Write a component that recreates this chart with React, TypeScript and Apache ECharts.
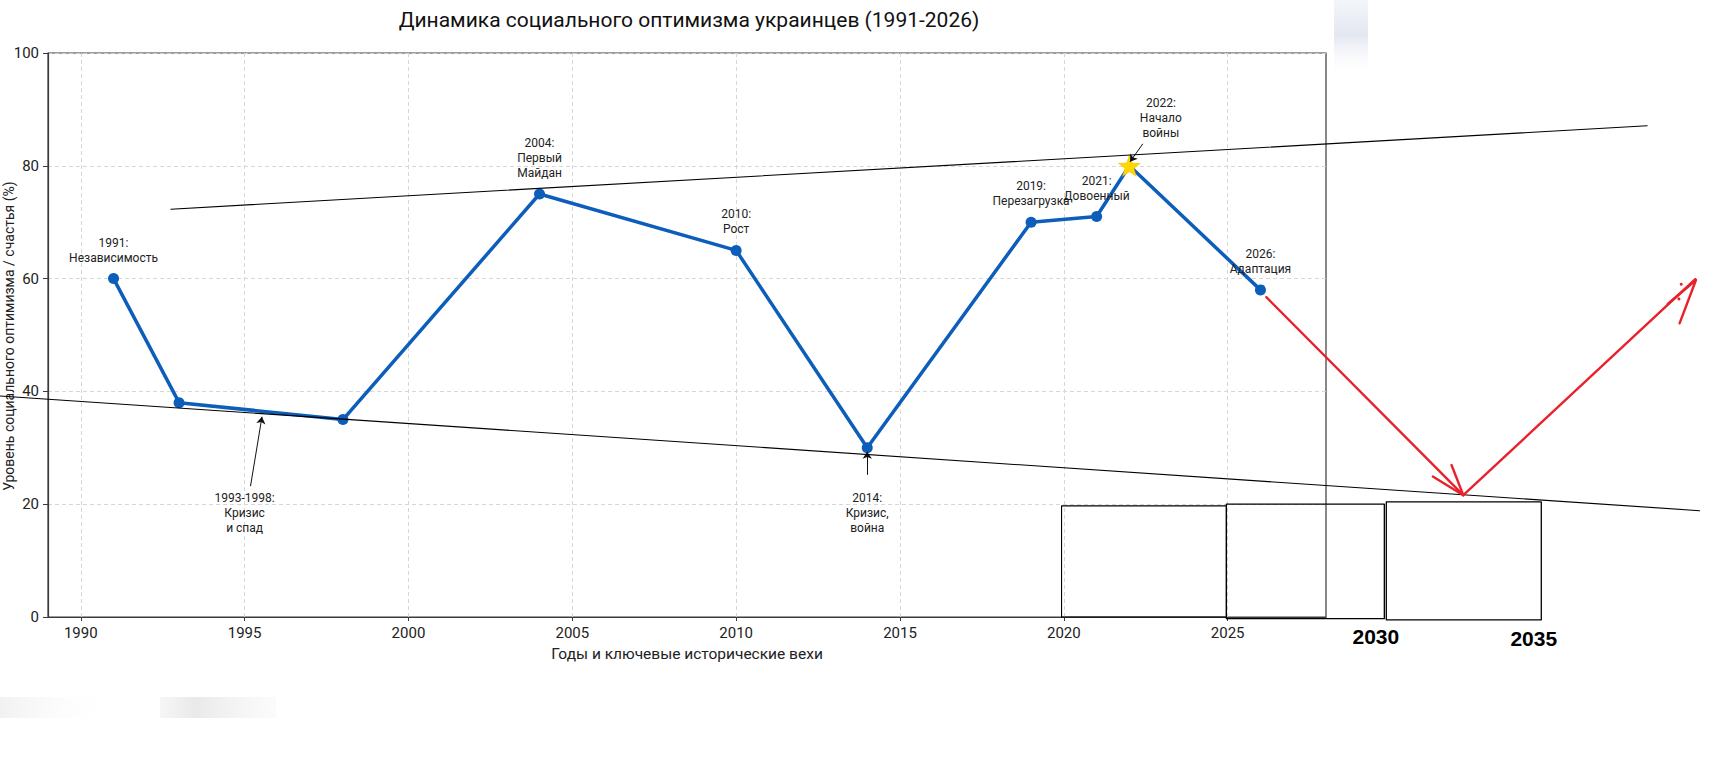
import React, { useEffect, useRef } from "react";
import * as echarts from "echarts";

// ---------- data ----------
const years = [1991, 1993, 1998, 2004, 2010, 2014, 2019, 2021, 2022, 2026];
const optimism = [60, 38, 35, 75, 65, 30, 70, 71, 80, 58];
const pointLabels = [
  "1991:\nНезависимость",
  "",
  "",
  "2004:\nПервый\nМайдан",
  "2010:\nРост",
  "",
  "2019:\nПерезагрузка",
  "2021:\nДовоенный",
  "",
  "2026:\nАдаптация",
];
const starYear = 2022;

const xTicks = [1990, 1995, 2000, 2005, 2010, 2015, 2020, 2025];

// annotations with arrows (data coordinates)
const noteTexts = ["1993-1998:\nКризис\nи спад", "2014:\nКризис,\nвойна", "2022:\nНачало\nвойны"];
const notePositions = [
  [1995, 18.5],
  [2014, 18.5],
  [2022.96, 88.5],
];
const noteArrowFrom = [
  [1995.18, 23.2],
  [2014, 25.2],
  [2022.41, 83.9],
];
const noteArrowTo = [
  [1995.53, 35.5],
  [2014, 29.3],
  [2022.02, 80.7],
];

// hand-drawn overlay (data coordinates of the extended scale)
const upperTrend = [
  [1992.75, 72.3],
  [2037.8, 87.1],
];
const lowerTrend = [
  [1987.5, 39.2],
  [2039.4, 18.85],
];
const boxA = [
  [2019.93, 0],
  [2024.96, 0],
  [2024.96, 19.7],
  [2019.93, 19.7],
  [2019.93, 0],
];
const boxB = [
  [2024.96, -0.3],
  [2029.78, -0.3],
  [2029.78, 20.0],
  [2024.96, 20.0],
  [2024.96, -0.3],
];
const boxC = [
  [2029.84, -0.5],
  [2034.57, -0.5],
  [2034.57, 20.4],
  [2029.84, 20.4],
  [2029.84, -0.5],
];
const redDown = [
  [2026.18, 56.7],
  [2032.19, 21.6],
];
const redUp = [
  [2032.19, 21.6],
  [2039.27, 59.9],
];
const redDownHead = [
  [2031.26, 24.9],
  [2032.19, 21.6],
  [2031.83, 26.95],
];
const redUpHead = [
  [2038.43, 55.5],
  [2039.29, 59.75],
  [2038.79, 52.07],
];
const redDots = [
  [2038.84, 59.0],
  [2038.77, 56.4],
];
const futureYearLabels = ["2030", "2035"];
const futureYearPositions = [
  [2029.52, -3.46],
  [2034.34, -3.85],
];

// ---------- layout ----------
const CW = 1730;
const CH = 780;
const G = { left: 48, top: 53, width: 1278, height: 564 };
const X_MIN = 1989;
const X_MAX = 2028;
const Y_MIN = 0;
const Y_MAX = 100;

const STAR =
  "path://M12,0.5 L14.9,8.6 L23.5,8.9 L16.7,14.2 L19.1,22.5 L12,17.6 L4.9,22.5 L7.3,14.2 L0.5,8.9 L9.1,8.6 Z";

const FONT = "Roboto, 'Noto Sans', sans-serif";
const BLUE = "#0c5eba";
const RED = "#e8212b";

export default function App() {
  const ref = useRef<HTMLDivElement>(null);

  useEffect(() => {
    if (!ref.current) return;
    const chart = echarts.init(ref.current, undefined, { renderer: "svg" });

    const pxX = G.width / (X_MAX - X_MIN);
    const pxY = G.height / (Y_MAX - Y_MIN);
    const ovXMin = X_MIN - G.left / pxX;
    const ovXMax = X_MIN + (CW - G.left) / pxX;
    const ovYMax = Y_MAX + G.top / pxY;
    const ovYMin = Y_MIN - (CH - G.top - G.height) / pxY;

    const mainData = years.map((y, i) => {
      const item: any = { value: [y, optimism[i]] };
      if (pointLabels[i]) {
        item.label = {
          show: true,
          position: "top",
          distance: 8,
          formatter: pointLabels[i],
        };
      }
      if (y === starYear) {
        item.symbol = STAR;
        item.symbolSize = 22;
        item.symbolKeepAspect = true;
        item.itemStyle = { color: "#FFD700", borderColor: "#f2c200", borderWidth: 0.5 };
        item.z = 10;
      }
      return item;
    });

    const overlayLine = (data: number[][], color: string, width: number) => ({
      type: "line",
      xAxisIndex: 1,
      yAxisIndex: 1,
      data,
      symbol: "none",
      showSymbol: false,
      clip: false,
      silent: true,
      z: 6,
      lineStyle: { color, width, cap: "round", join: "round" },
      emphasis: { disabled: true },
    });

    const option: any = {
      animation: false,
      textStyle: { fontFamily: FONT },
      grid: [
        {
          left: G.left,
          top: G.top,
          width: G.width,
          height: G.height,
          show: true,
          borderColor: "#3a3a3a",
          borderWidth: 1.2,
          backgroundColor: "transparent",
          containLabel: false,
        },
        { left: 0, top: 0, width: CW, height: CH, show: false },
      ],
      xAxis: [
        {
          type: "value",
          gridIndex: 0,
          min: X_MIN,
          max: X_MAX,
          axisLine: { show: true, onZero: false, lineStyle: { color: "#3a3a3a", width: 1.2 } },
          axisTick: {
            show: true,
            customValues: xTicks,
            length: 4,
            lineStyle: { color: "#3a3a3a", width: 1 },
          },
          axisLabel: {
            customValues: xTicks,
            formatter: (v: number) => String(v),
            fontSize: 15,
            color: "#222",
            margin: 8,
            fontFamily: FONT,
          },
          splitLine: {
            show: true,
            lineStyle: { type: [4, 3], color: "#d2d2d2", width: 0.9 },
          },
          name: "Годы и ключевые исторические вехи",
          nameLocation: "middle",
          nameGap: 29,
          nameTextStyle: { fontSize: 15.5, color: "#222", fontFamily: FONT },
        },
        {
          type: "value",
          gridIndex: 1,
          min: ovXMin,
          max: ovXMax,
          show: false,
        },
      ],
      yAxis: [
        {
          type: "value",
          gridIndex: 0,
          min: Y_MIN,
          max: Y_MAX,
          interval: 20,
          axisLine: { show: true, lineStyle: { color: "#3a3a3a", width: 1.2 } },
          axisTick: { show: true, length: 5, lineStyle: { color: "#3a3a3a", width: 1 } },
          axisLabel: { fontSize: 15, color: "#222", margin: 9, fontFamily: FONT },
          splitLine: {
            show: true,
            lineStyle: { type: [4, 3], color: "#d2d2d2", width: 0.9 },
          },
        },
        {
          type: "value",
          gridIndex: 1,
          min: ovYMin,
          max: ovYMax,
          show: false,
        },
      ],
      graphic: [
        {
          type: "text",
          x: 689,
          y: 20,
          style: {
            text: "Динамика социального оптимизма украинцев (1991-2026)",
            font: `21px ${FONT}`,
            fill: "#111",
            align: "center",
            verticalAlign: "middle",
          },
        },
        {
          type: "text",
          x: 9,
          y: 336,
          rotation: Math.PI / 2,
          style: {
            text: "Уровень социального оптимизма / счастья (%)",
            font: `14px ${FONT}`,
            fill: "#222",
            align: "center",
            verticalAlign: "middle",
          },
        },
        {
          type: "rect",
          shape: { x: 1334, y: 0, width: 34, height: 78 },
          style: {
            fill: {
              type: "linear",
              x: 0,
              y: 0,
              x2: 0,
              y2: 1,
              colorStops: [
                { offset: 0, color: "#f4f6fa" },
                { offset: 0.45, color: "#e3e7f0" },
                { offset: 1, color: "rgba(255,255,255,0)" },
              ],
            },
          },
          silent: true,
          z: -1,
        },
        {
          type: "rect",
          shape: { x: 0, y: 697, width: 115, height: 21 },
          style: {
            fill: {
              type: "linear",
              x: 0,
              y: 0,
              x2: 1,
              y2: 0,
              colorStops: [
                { offset: 0, color: "#f1f1f1" },
                { offset: 1, color: "rgba(255,255,255,0)" },
              ],
            },
          },
          silent: true,
          z: -1,
        },
        {
          type: "rect",
          shape: { x: 160, y: 697, width: 116, height: 21 },
          style: {
            fill: {
              type: "linear",
              x: 0,
              y: 0,
              x2: 1,
              y2: 0,
              colorStops: [
                { offset: 0, color: "rgba(240,240,240,0.6)" },
                { offset: 0.3, color: "#e9e9e9" },
                { offset: 1, color: "rgba(245,245,245,0.4)" },
              ],
            },
          },
          silent: true,
          z: -1,
        },
      ],
      series: [
        {
          type: "line",
          xAxisIndex: 0,
          yAxisIndex: 0,
          data: mainData,
          symbol: "circle",
          symbolSize: 11,
          showSymbol: true,
          z: 3,
          lineStyle: { color: BLUE, width: 3.5 },
          itemStyle: { color: BLUE },
          emphasis: { disabled: true },
          label: {
            show: false,
            fontSize: 12,
            lineHeight: 15,
            color: "#222",
            align: "center",
            fontFamily: FONT,
          },
          markLine: {
            silent: true,
            animation: false,
            symbol: ["none", "arrow"],
            symbolSize: 7,
            label: { show: false },
            emphasis: { disabled: true },
            lineStyle: { color: "#111", width: 1, type: "solid" },
            data: noteArrowFrom.map((f, i) => [{ coord: f }, { coord: noteArrowTo[i] }]),
          },
        },
        {
          type: "scatter",
          xAxisIndex: 0,
          yAxisIndex: 0,
          data: notePositions.map((p, i) => ({ value: p, name: noteTexts[i] })),
          symbolSize: 1,
          itemStyle: { color: "rgba(0,0,0,0)", opacity: 1 },
          silent: true,
          z: 4,
          label: {
            show: true,
            position: "inside",
            formatter: (p: any) => p.name,
            fontSize: 12,
            lineHeight: 15,
            color: "#222",
            align: "center",
            verticalAlign: "middle",
            fontFamily: FONT,
          },
          emphasis: { disabled: true },
        },
        overlayLine(upperTrend, "#000", 1.1),
        overlayLine(lowerTrend, "#000", 1.1),
        overlayLine(boxA, "#000", 1.1),
        overlayLine(boxB, "#000", 1.3),
        overlayLine(boxC, "#000", 1.3),
        overlayLine(redDown, RED, 2.4),
        overlayLine(redUp, RED, 2.4),
        overlayLine(redDownHead, RED, 2.4),
        overlayLine(redUpHead, RED, 2.4),
        {
          type: "scatter",
          xAxisIndex: 1,
          yAxisIndex: 1,
          data: redDots,
          symbolSize: 3,
          itemStyle: { color: RED, opacity: 1 },
          silent: true,
          z: 6,
        },
        {
          type: "scatter",
          xAxisIndex: 1,
          yAxisIndex: 1,
          data: futureYearPositions.map((p, i) => ({ value: p, name: futureYearLabels[i] })),
          symbolSize: 1,
          itemStyle: { color: "rgba(0,0,0,0)", opacity: 1 },
          silent: true,
          z: 6,
          label: {
            show: true,
            position: "inside",
            formatter: (p: any) => p.name,
            fontSize: 21,
            fontWeight: "bold",
            color: "#000",
            fontFamily: "'Liberation Sans', Arial, sans-serif",
            align: "center",
            verticalAlign: "middle",
          },
          emphasis: { disabled: true },
        },
      ],
    };

    chart.setOption(option);
    return () => chart.dispose();
  }, []);

  return (
    <div
      ref={ref}
      style={{ position: "fixed", left: 0, top: 0, width: CW, height: CH, background: "#fff" }}
    />
  );
}
